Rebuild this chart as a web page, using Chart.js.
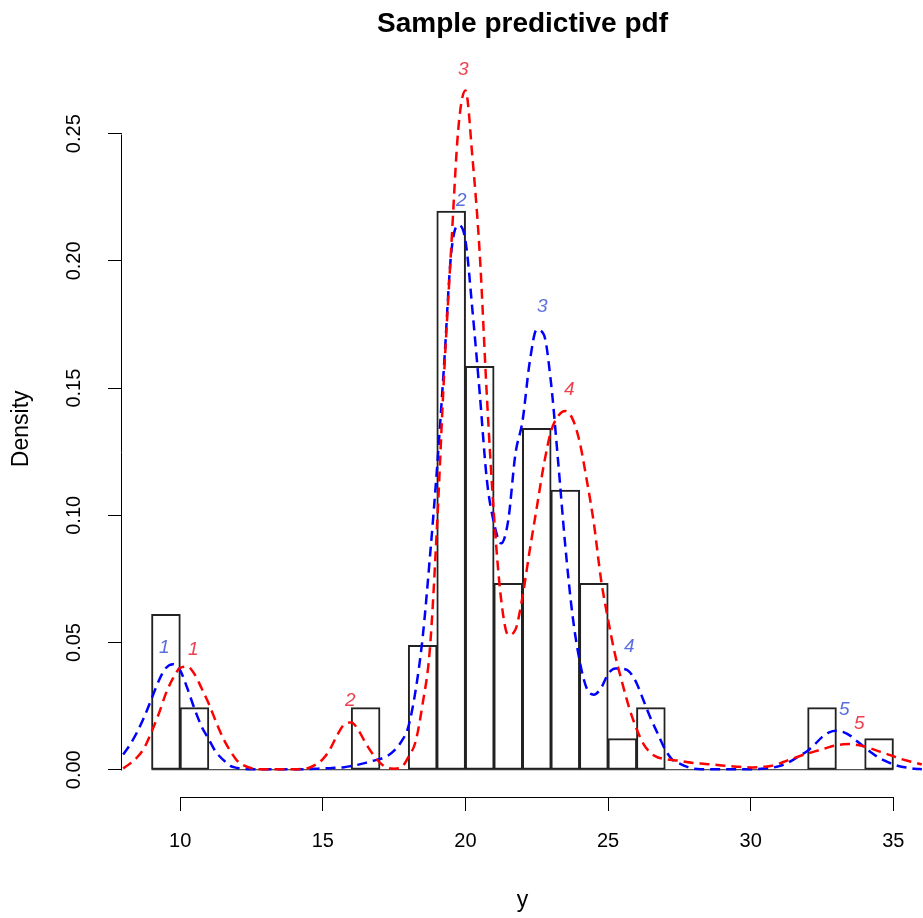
<!DOCTYPE html>
<html>
<head>
<meta charset="utf-8">
<script src="https://cdn.jsdelivr.net/npm/chart.js@4.4.1/dist/chart.umd.min.js"></script>
<style>
  body { margin: 0; background: #fff; }
</style>
</head>
<body>
<canvas id="chart" width="923" height="918"></canvas>
<script>
// histogram bins (left edges, width 1) and their densities
const binStart = [9, 10, 11, 12, 13, 14, 15, 16, 17, 18, 19, 20, 21, 22, 23, 24, 25, 26, 27, 28, 29, 30, 31, 32, 33, 34];
const binDensity = [0.0610, 0.0244, 0, 0, 0, 0, 0, 0.0244, 0, 0.0488, 0.2195, 0.1585, 0.0732, 0.1341,
    0.1098, 0.0732, 0.0122, 0.0244, 0, 0, 0, 0, 0, 0.0244, 0, 0.0122];

// x positions where the two predictive curves were read
const curveX = [
    8.00, 8.25, 8.50, 8.75, 9.00, 9.25, 9.50, 9.75,
    10.00, 10.25, 10.50, 10.75, 11.00, 11.25, 11.50, 11.75,
    12.00, 12.25, 12.50, 12.75, 13.00, 13.25, 13.50, 13.75,
    14.00, 14.25, 14.50, 14.75, 15.00, 15.25, 15.50, 15.75,
    16.00, 16.25, 16.50, 16.75, 17.00, 17.25, 17.50, 17.75,
    18.00, 18.25, 18.50, 18.75, 19.00, 19.25, 19.50, 19.75,
    20.00, 20.25, 20.50, 20.75, 21.00, 21.25, 21.50, 21.75,
    22.00, 22.25, 22.50, 22.75, 23.00, 23.25, 23.50, 23.75,
    24.00, 24.25, 24.50, 24.75, 25.00, 25.25, 25.50, 25.75,
    26.00, 26.25, 26.50, 26.75, 27.00, 27.25, 27.50, 27.75,
    28.00, 28.25, 28.50, 28.75, 29.00, 29.25, 29.50, 29.75,
    30.00, 30.25, 30.50, 30.75, 31.00, 31.25, 31.50, 31.75,
    32.00, 32.25, 32.50, 32.75, 33.00, 33.25, 33.50, 33.75,
    34.00, 34.25, 34.50, 34.75, 35.00, 35.25, 35.50, 35.75,
    36.00
];

// blue dashed curve
const blueDensity = [
    0.0060, 0.0100, 0.0150, 0.0210, 0.0280, 0.0350, 0.0400, 0.0415,
    0.0390, 0.0320, 0.0240, 0.0170, 0.0120, 0.0070, 0.0040, 0.0015,
    0.0007, 0.0003, 0.0002, 0.0002, 0.0002, 0.0002, 0.0002, 0.0002,
    0.0002, 0.0002, 0.0003, 0.0004, 0.0005, 0.0006, 0.0008, 0.0010,
    0.0015, 0.0020, 0.0027, 0.0035, 0.0042, 0.0053, 0.0075, 0.0110,
    0.0170, 0.0310, 0.0520, 0.0830, 0.1180, 0.1590, 0.2030, 0.2140,
    0.2080, 0.1800, 0.1480, 0.1140, 0.0970, 0.0890, 0.0980, 0.1240,
    0.1370, 0.1600, 0.1730, 0.1710, 0.1520, 0.1210, 0.0880, 0.0610,
    0.0430, 0.0320, 0.0295, 0.0320, 0.0376, 0.0398, 0.0397, 0.0385,
    0.0340, 0.0270, 0.0200, 0.0140, 0.0080, 0.0040, 0.0025, 0.0012,
    0.0004, 0.0002, 0.0002, 0.0002, 0.0002, 0.0002, 0.0002, 0.0002,
    0.0002, 0.0003, 0.0005, 0.0008, 0.0014, 0.0025, 0.0040, 0.0057,
    0.0075, 0.0100, 0.0128, 0.0147, 0.0153, 0.0148, 0.0133, 0.0110,
    0.0088, 0.0066, 0.0047, 0.0033, 0.0021, 0.0013, 0.0008, 0.0004,
    0.0002
];

// red dashed curve
const redDensity = [
    0.0005, 0.0025, 0.0050, 0.0088, 0.0150, 0.0220, 0.0300, 0.0360,
    0.0400, 0.0405, 0.0376, 0.0320, 0.0260, 0.0190, 0.0125, 0.0075,
    0.0035, 0.0016, 0.0006, 0.0002, 0.0002, 0.0002, 0.0002, 0.0002,
    0.0002, 0.0003, 0.0007, 0.0020, 0.0042, 0.0080, 0.0135, 0.0178,
    0.0186, 0.0155, 0.0105, 0.0062, 0.0028, 0.0008, 0.0004, 0.0009,
    0.0050, 0.0110, 0.0260, 0.0470, 0.0950, 0.1550, 0.2050, 0.2520,
    0.2670, 0.2400, 0.2030, 0.1470, 0.1000, 0.0670, 0.0530, 0.0550,
    0.0680, 0.0860, 0.1030, 0.1200, 0.1330, 0.1390, 0.1410, 0.1380,
    0.1290, 0.1140, 0.0970, 0.0750, 0.0590, 0.0450, 0.0340, 0.0240,
    0.0160, 0.0100, 0.0065, 0.0048, 0.0042, 0.0038, 0.0035, 0.0030,
    0.0026, 0.0024, 0.0022, 0.0020, 0.0017, 0.0014, 0.0012, 0.0010,
    0.0009, 0.0010, 0.0012, 0.0016, 0.0024, 0.0035, 0.0045, 0.0055,
    0.0064, 0.0072, 0.0080, 0.0089, 0.0096, 0.0100, 0.0101, 0.0097,
    0.0091, 0.0082, 0.0072, 0.0063, 0.0053, 0.0043, 0.0035, 0.0028,
    0.0021
];

// numbered component labels
const labelText = ['1', '2', '3', '4', '5'];
const blueLabelX = [9.44, 19.85, 22.69, 25.74, 33.28];
const blueLabelY = [0.0480, 0.2237, 0.1820, 0.0483, 0.0236];
const redLabelX = [10.46, 15.96, 19.92, 23.64, 33.81];
const redLabelY = [0.0472, 0.0271, 0.2752, 0.1494, 0.0181];

// axis ticks
const xTicks = [10, 15, 20, 25, 30, 35];
const yTicks = [0, 0.05, 0.10, 0.15, 0.20, 0.25];

const tickFont = { family: "'Liberation Sans', Arial, sans-serif", size: 20 };
const labelFont = { family: "'Liberation Sans', Arial, sans-serif", size: 23 };

// R-style axis lines, only between first and last tick
const rAxes = {
    id: 'rAxes',
    afterDraw(chart) {
        const { ctx, scales: { x, y } } = chart;
        ctx.save();
        ctx.strokeStyle = '#000';
        ctx.lineWidth = 1;
        ctx.beginPath();
        ctx.moveTo(Math.round(x.getPixelForValue(xTicks[0])) + 0.5, Math.round(x.top) + 0.5);
        ctx.lineTo(Math.round(x.getPixelForValue(xTicks[xTicks.length - 1])) + 0.5, Math.round(x.top) + 0.5);
        ctx.moveTo(Math.round(y.right) - 0.5, Math.round(y.getPixelForValue(yTicks[0])) + 0.5);
        ctx.lineTo(Math.round(y.right) - 0.5, Math.round(y.getPixelForValue(yTicks[yTicks.length - 1])) + 0.5);
        ctx.stroke();
        ctx.restore();
    }
};

// numbers over the curve modes
const modeLabels = {
    id: 'modeLabels',
    afterDatasetsDraw(chart) {
        const { ctx, scales: { x, y } } = chart;
        ctx.save();
        ctx.font = "italic 19px 'Liberation Sans', Arial, sans-serif";
        ctx.textAlign = 'center';
        ctx.textBaseline = 'middle';
        const drawSet = (xs, ys, color) => {
            ctx.fillStyle = color;
            xs.forEach((v, i) => {
                ctx.fillText(labelText[i], x.getPixelForValue(v), y.getPixelForValue(ys[i]));
            });
        };
        drawSet(blueLabelX, blueLabelY, '#5a6ee0');
        drawSet(redLabelX, redLabelY, '#ee4050');
        ctx.restore();
    }
};

const ctx = document.getElementById('chart').getContext('2d');
new Chart(ctx, {
    type: 'bar',
    data: {
        datasets: [
            {
                type: 'line',
                data: [{ x: binStart[0], y: 0 }, { x: binStart[binStart.length - 1] + 1, y: 0 }],
                borderColor: '#222',
                borderWidth: 1,
                pointRadius: 0,
                order: 4
            },
            {
                type: 'bar',
                data: binStart.map((b, i) => ({ x: b + 0.5, y: binDensity[i] })),
                backgroundColor: 'rgba(0,0,0,0)',
                borderColor: '#222',
                borderWidth: 1,
                borderSkipped: false,
                inflateAmount: 0.5,
                barPercentage: 1,
                categoryPercentage: 1,
                order: 3
            },
            {
                type: 'line',
                data: curveX.map((v, i) => ({ x: v, y: blueDensity[i] })),
                borderColor: '#0000ff',
                borderWidth: 2.5,
                borderDash: [10, 6],
                pointRadius: 0,
                cubicInterpolationMode: 'monotone',
                order: 2
            },
            {
                type: 'line',
                data: curveX.map((v, i) => ({ x: v, y: redDensity[i] })),
                borderColor: '#ff0000',
                borderWidth: 2.5,
                borderDash: [10, 6],
                pointRadius: 0,
                cubicInterpolationMode: 'monotone',
                order: 1
            }
        ]
    },
    options: {
        responsive: false,
        animation: false,
        layout: { padding: 0 },
        plugins: {
            legend: { display: false },
            tooltip: { enabled: false },
            title: {
                display: true,
                text: 'Sample predictive pdf',
                fullSize: false,
                color: '#000',
                font: { family: "'Liberation Sans', Arial, sans-serif", size: 28, weight: 'bold' },
                padding: { top: 7, bottom: 20 }
            }
        },
        scales: {
            x: {
                type: 'linear',
                min: 7.96,
                max: 36.04,
                offset: false,
                afterBuildTicks: s => { s.ticks = xTicks.map(v => ({ value: v })); },
                afterFit: s => { s.height = 121; },
                ticks: {
                    color: '#000',
                    font: tickFont,
                    padding: 18,
                    maxRotation: 0,
                    callback: v => String(v)
                },
                grid: { offset: false, drawOnChartArea: false, tickLength: 14, color: '#000' },
                border: { display: false },
                title: { display: true, text: 'y', color: '#000', font: labelFont, padding: { top: 0, bottom: 4 } }
            },
            y: {
                type: 'linear',
                min: -0.01072,
                max: 0.27872,
                afterBuildTicks: s => { s.ticks = yTicks.map(v => ({ value: v })); },
                afterFit: s => { s.width = 122; },
                ticks: {
                    color: '#000',
                    font: tickFont,
                    padding: 14,
                    minRotation: 90,
                    maxRotation: 90,
                    crossAlign: 'center',
                    callback: v => v.toFixed(2)
                },
                grid: { drawOnChartArea: false, tickLength: 14, color: '#000' },
                border: { display: false },
                title: { display: true, text: 'Density', color: '#000', font: labelFont, padding: { top: 8, bottom: 0 } }
            }
        }
    },
    plugins: [rAxes, modeLabels]
});
</script>
</body>
</html>
